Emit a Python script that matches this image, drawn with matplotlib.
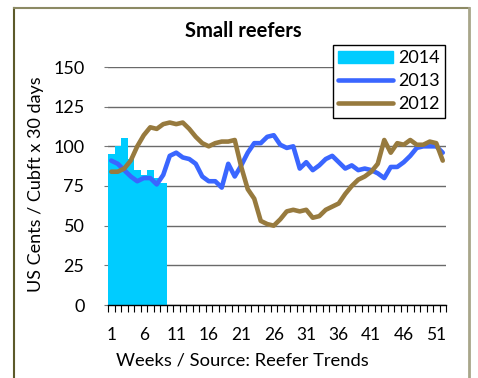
import matplotlib
matplotlib.use("Agg")
import matplotlib.pyplot as plt
from matplotlib.lines import Line2D
import numpy as np

plt.rcParams["font.family"] = ["Lato", "DejaVu Sans"]

# weekly rates, US cents per cubic foot x 30 days
weeks = list(range(1, 53))
rates_2014 = [95, 100, 105, 92, 85, 82, 85, 80, 77]
rates_2013 = [91, 89, 85, 81, 78, 80, 80, 76, 82, 94,
              96, 93, 92, 89, 81, 78, 78, 74, 89, 81,
              88, 96, 102, 102, 106, 107, 101, 99, 100, 86,
              90, 85, 88, 92, 94, 90, 86, 88, 85, 86,
              85, 83, 80, 87, 87, 90, 94, 99, 100, 100,
              100, 96]
rates_2012 = [84, 84, 86, 91, 100, 107, 112, 111, 114, 115,
              114, 115, 111, 106, 102, 100, 102, 103, 103, 104,
              87, 73, 67, 53, 51, 50, 54, 59, 60, 59,
              60, 55, 56, 60, 62, 64, 70, 75, 79, 81,
              84, 89, 104, 96, 102, 101, 104, 101, 101, 103,
              102, 91]
tick_weeks = [1, 6, 11, 16, 21, 26, 31, 36, 41, 46, 51]
y_ticks = [0, 25, 50, 75, 100, 125, 150]

C_2014 = "#00ccff"
C_2013 = "#3a66ff"
C_2012 = "#977a3e"
LW = 3.3

W, H = 478, 378
fig = plt.figure(figsize=(W / 100, H / 100), dpi=100)
ax = fig.add_axes([108 / W, 73 / H, 338 / W, 238 / H])

ax.bar(weeks[:len(rates_2014)], rates_2014, width=1.0, color=C_2014,
       linewidth=0, zorder=2)
ax.plot(weeks, rates_2013, color=C_2013, lw=LW, solid_joinstyle="round",
        solid_capstyle="round", zorder=3)
ax.plot(weeks, rates_2012, color=C_2012, lw=LW, solid_joinstyle="round",
        solid_capstyle="round", zorder=4)

ax.set_xlim(0.5, 52.5)
ax.set_ylim(0, 150)
ax.set_yticks(y_ticks)
ax.set_xticks(tick_weeks)
ax.set_xticks(np.arange(0.5, 53.0, 1.0), minor=True)
ax.tick_params(axis="x", which="major", length=0, pad=16, labelsize=12.5)
ax.tick_params(axis="x", which="minor", length=5, width=0.8,
               direction="out", color="black")
ax.tick_params(axis="y", length=3, width=0.8, color="#777777", pad=14,
               labelsize=13)

ax.yaxis.grid(True, color="#6a6a6a", lw=1.0, zorder=1)
ax.set_axisbelow(True)
for s in ("left", "right", "top"):
    ax.spines[s].set_visible(False)
ax.spines["bottom"].set_color("black")
ax.spines["bottom"].set_linewidth(1.0)
ax.spines["bottom"].set_zorder(5)

fig.text(243 / W, 1 - 31 / H, "Small reefers", ha="center", va="center",
         fontsize=14.5, fontweight="bold")
fig.text(242 / W, 1 - 360 / H, "Weeks / Source: Reefer Trends",
         ha="center", va="center", fontsize=13.2)
fig.text(36 / W, 1 - 184 / H, "US Cents / Cubft x 30 days", ha="center",
         va="center", rotation=90, fontsize=13)

handles = [
    plt.Rectangle((0, 0), 1, 1, color=C_2014),
    Line2D([], [], color=C_2013, lw=LW, solid_capstyle="round"),
    Line2D([], [], color=C_2012, lw=LW, solid_capstyle="round"),
]
leg = fig.legend(handles, ["2014", "2013", "2012"], loc="upper right",
                 bbox_to_anchor=(445 / W, 1 - 45 / H), borderaxespad=0,
                 fontsize=13, handlelength=3.0, handletextpad=0.3,
                 labelspacing=0.38, borderpad=0.3, fancybox=False,
                 framealpha=1, edgecolor="black")
leg.get_frame().set_linewidth(1.0)

# outer frame
fig.add_artist(Line2D([14 / W, 14 / W], [0, 1 - 8 / H], color="#5c5a2a",
                      lw=1.5, transform=fig.transFigure))
fig.add_artist(Line2D([14 / W, 469 / W], [1 - 8 / H, 1 - 8 / H],
                      color="#8c8a64", lw=1.5, transform=fig.transFigure))
fig.add_artist(Line2D([469 / W, 469 / W], [0, 1 - 8 / H], color="#a8a68a",
                      lw=2.0, transform=fig.transFigure))

fig.savefig("out.png", dpi=100)
